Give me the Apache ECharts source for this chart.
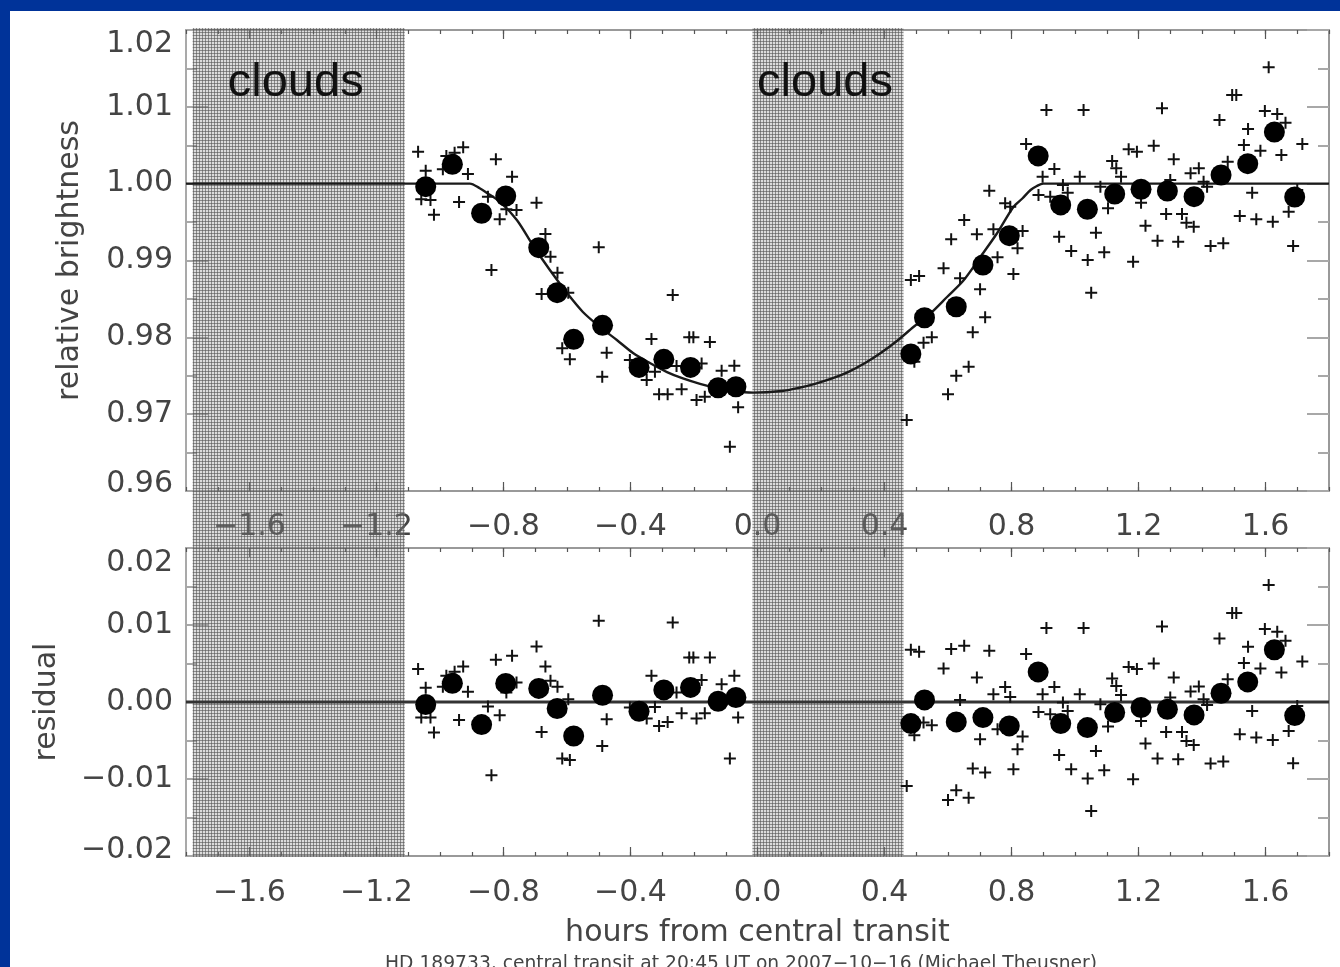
<!DOCTYPE html>
<html><head><meta charset="utf-8">
<script src="https://cdn.jsdelivr.net/npm/echarts@6/dist/echarts.min.js"></script>
<style>
html,body{margin:0;padding:0;width:1340px;height:967px;overflow:hidden;background:#003399;}
#c{position:absolute;left:10px;top:11px;width:1330px;height:956px;background:#fff;}
</style></head><body><div id="c"></div>
<script>
// ---------------- data (hours from central transit) ----------------
const xTickValues = [-1.6, -1.2, -0.8, -0.4, 0.0, 0.4, 0.8, 1.2, 1.6];
const yTopTickValues = [0.96, 0.97, 0.98, 0.99, 1.00, 1.01, 1.02];
const yBotTickValues = [-0.02, -0.01, 0.00, 0.01, 0.02];

const cloudStart = [-1.779, -0.016];
const cloudEnd = [-1.111, 0.460];
const cloudLabel = ['clouds', 'clouds'];

const modelX = [-1.8, -0.906, -0.875, -0.852, -0.811, -0.758, -0.708, -0.654, -0.600, -0.550, -0.496, -0.443, -0.392, -0.339, -0.285, -0.235, -0.181, -0.128, -0.077, -0.014, 0.077, 0.128, 0.181, 0.235, 0.285, 0.339, 0.388, 0.440, 0.491, 0.545, 0.597, 0.650, 0.702, 0.755, 0.806, 0.835, 0.860, 0.880, 0.900, 1.8];
const modelFlux = [1.0, 1.0, 0.9994, 0.99879, 0.99762, 0.99527, 0.99202, 0.98876, 0.98577, 0.98330, 0.98134, 0.97965, 0.97796, 0.97666, 0.97548, 0.97465, 0.97395, 0.97340, 0.97301, 0.97280, 0.97301, 0.97340, 0.97395, 0.97465, 0.97548, 0.97666, 0.97796, 0.97956, 0.98134, 0.98312, 0.98525, 0.98746, 0.99046, 0.99358, 0.99697, 0.99810, 0.99918, 0.9997, 1.0, 1.0];

const zeroX = [-1.8, 1.8];
const zeroY = [0, 0];

const rawX = [
 -1.069, -1.045, -0.991, -0.980, -0.954, -0.927, -0.912, -1.059, -1.030, -1.019,
 -0.940, -0.824, -0.773, -0.849, -0.812, -0.791, -0.759, -0.696, -0.838, -0.668,
 -0.652, -0.630, -0.680, -0.596, -0.500, -0.615, -0.591, -0.475, -0.489, -0.267,
 -0.334, -0.215, -0.202, -0.150, -0.402, -0.349, -0.323, -0.255, -0.239, -0.310,
 -0.283, -0.192, -0.166, -0.176, -0.113, -0.073, -0.061, -0.087,
 0.470, 0.483, 0.509, 0.523, 0.549, 0.494, 0.586, 0.610, 0.651, 0.600,
 0.626, 0.665, 0.638, 0.678, 0.691, 0.701, 0.717, 0.730, 0.743, 0.756,
 0.780, 0.796, 0.806, 0.819, 0.835, 0.846, 0.885, 0.898, 0.910, 0.922,
 0.935, 0.950, 0.962, 0.977, 0.988, 1.015, 1.027, 1.040, 1.051, 1.066,
 1.080, 1.092, 1.104, 1.117, 1.130, 1.145, 1.169, 1.195, 1.183, 1.208,
 1.222, 1.248, 1.260, 1.274, 1.287, 1.300, 1.311, 1.325, 1.337, 1.351,
 1.374, 1.364, 1.390, 1.405, 1.416, 1.427, 1.455, 1.467, 1.481, 1.495,
 1.508, 1.519, 1.532, 1.545, 1.558, 1.571, 1.584, 1.598, 1.610, 1.623,
 1.637, 1.650, 1.663, 1.673, 1.687, 1.700, 1.716];
const rawFlux = [
 1.00417, 1.00169, 1.00188, 1.00361, 1.00404, 1.00474, 1.00126, 0.99797, 0.99788, 0.99596,
 0.99762, 1.00318, 1.00091, 0.99831, 0.99536, 0.99667, 0.99658, 0.99753, 0.98876, 0.99345,
 0.99049, 0.98841, 0.98564, 0.98581, 0.99172, 0.97857, 0.97714, 0.97799, 0.97487, 0.98551,
 0.97978, 0.98000, 0.98000, 0.97939, 0.97704, 0.97444, 0.97552, 0.97626, 0.97323, 0.97258,
 0.97258, 0.97184, 0.97227, 0.97661, 0.97565, 0.97630, 0.97089, 0.96576,
 0.96923, 0.98746, 0.98798, 0.97930, 0.98000, 0.97682, 0.98898, 0.99276, 0.99527, 0.97258,
 0.97500, 0.97617, 0.98768, 0.98065, 0.99341, 0.98625, 0.98260, 0.99909, 0.99406, 0.99042,
 0.99745, 0.99701, 0.98824, 0.99159, 0.99384, 1.00517, 0.99853, 1.00091, 1.00960, 0.99831,
 1.00191, 0.99310, 0.99983, 0.99883, 0.99124, 1.00091, 1.00960, 0.99007, 0.98581, 0.99362,
 0.99961, 0.99107, 0.99680, 1.00296, 1.00201, 1.00091, 1.00448, 1.00417, 0.98984, 0.99753,
 0.99453, 1.00495, 0.99258, 1.00982, 0.99605, 1.00048, 1.00318, 0.99245, 0.99605, 0.99492,
 0.99440, 1.00135, 1.00201, 1.00026, 0.99961, 0.99189, 1.00829, 0.99224, 1.00286, 1.01155,
 1.01155, 0.99579, 1.00504, 1.00712, 0.99883, 0.99536, 1.00430, 1.00947, 1.01516, 0.99505,
 1.00908, 1.00374, 1.00794, 0.99635, 0.99189, 0.99918, 1.00517];
const rawResid = [
 0.00427, 0.00184, 0.00197, 0.00340, 0.00392, 0.00462, 0.00132, -0.00202, -0.00202, -0.00397,
 -0.00233, 0.00548, 0.00600, -0.00059, -0.00172, 0.00123, 0.00254, 0.00722, -0.00952, 0.00462,
 0.00275, 0.00197, -0.00388, 0.00036, 0.01055, -0.00735, -0.00753, -0.00224, -0.00571, 0.01034,
 0.00340, 0.00579, 0.00579, 0.00579, -0.00072, -0.00215, -0.00064, 0.00123, -0.00146, -0.00311,
 -0.00259, -0.00215, -0.00146, 0.00287, 0.00231, 0.00340, -0.00202, -0.00735,
 -0.01091, 0.00678, 0.00652, -0.00267, -0.00302, -0.00432, 0.00436, 0.00687, 0.00730, -0.01273,
 -0.01147, -0.01242, 0.00027, -0.00865, 0.00319, -0.00484, -0.00917, 0.00665, 0.00101, -0.00354,
 0.00196, 0.00066, -0.00874, -0.00614, -0.00449, 0.00622, -0.00129, 0.00101, 0.00960, -0.00159,
 0.00196, -0.00688, -0.00007, -0.00116, -0.00874, 0.00101, 0.00960, -0.00995, -0.01416, -0.00636,
 -0.00029, -0.00887, -0.00319, 0.00306, 0.00209, 0.00092, 0.00456, 0.00427, -0.01004, -0.00246,
 -0.00540, 0.00501, -0.00735, 0.00982, -0.00389, 0.00059, 0.00319, -0.00744, -0.00389, -0.00506,
 -0.00558, 0.00137, 0.00202, 0.00036, -0.00038, -0.00800, 0.00826, -0.00774, 0.00296, 0.01155,
 0.01155, -0.00419, 0.00505, 0.00717, -0.00116, -0.00462, 0.00436, 0.00947, 0.01519, -0.00493,
 0.00912, 0.00384, 0.00795, -0.00376, -0.00796, -0.00051, 0.00527];

const binX = [-1.045, -0.961, -0.869, -0.793, -0.689, -0.631, -0.579, -0.488, -0.373, -0.295, -0.211, -0.124, -0.068,
 0.483, 0.526, 0.626, 0.710, 0.793, 0.884, 0.955, 1.039, 1.125, 1.208, 1.291, 1.375, 1.460, 1.544, 1.628, 1.692];
const binFlux = [0.99961, 1.00253, 0.99615, 0.99840, 0.99167, 0.98581, 0.97974, 0.98156, 0.97609, 0.97714, 0.97609, 0.97344, 0.97357,
 0.97783, 0.98255, 0.98398, 0.98941, 0.99323, 1.00361, 0.99723, 0.99667, 0.99866, 0.99927, 0.99905, 0.99831, 1.00113, 1.00260, 1.00673, 0.99827];
const binResid = [-0.00033, 0.00244, -0.00293, 0.00241, 0.00176, -0.00085, -0.00441, 0.00088, -0.00120, 0.00157, 0.00189, 0.00010, 0.00059,
 -0.00280, 0.00027, -0.00259, -0.00202, -0.00311, 0.00391, -0.00280, -0.00332, -0.00137, -0.00072, -0.00094, -0.00168, 0.00114, 0.00261, 0.00678, -0.00176];

const captionText = 'HD 189733, central transit at 20:45 UT on 2007\u221210\u221216 (Michael Theusner)';

// ---------------- styling helpers ----------------
const FONT = "'DejaVu Sans', sans-serif";
const TXT = '#444444';
const fmtNum = (v, d) => { if (Math.abs(v) < 1e-9) v = 0; return v.toFixed(d).replace('-', '\u2212'); };
const zip = (a, b) => a.map((x, i) => [x, b[i]]);
const PLUS = 'path://M5,0H7V5H12V7H7V12H5V7H0V5H5Z';

const pc = document.createElement('canvas'); pc.width = 3; pc.height = 3;
const g = pc.getContext('2d');
g.fillStyle = 'rgba(150,150,150,0.34)'; g.fillRect(0, 0, 3, 3);
g.fillStyle = 'rgba(85,85,85,0.6)'; g.fillRect(0, 0, 3, 1); g.fillRect(0, 0, 1, 3);
const shadePattern = { image: pc, repeat: 'repeat' };

const lineStyleX = { color: '#999', width: 2 };
const tickStyleX = { color: '#555', width: 1.2 };
const lineStyleY = { color: '#8c8c8c', width: 1.5 };
const tickStyleY = { color: '#a8a8a8', width: 2 };

function makeXAxes(grid, labelMargin, withName) {
  const base = { type: 'value', gridIndex: grid, min: -1.8, max: 1.8, splitLine: { show: false } };
  const lab = { customValues: xTickValues, formatter: v => fmtNum(v, 1), margin: labelMargin,
                fontSize: 30, fontFamily: FONT, color: TXT };
  const major = Object.assign({}, base, {
    position: 'bottom', axisLine: { show: false, onZero: false },
    axisTick: { inside: true, length: 9, customValues: xTickValues, lineStyle: tickStyleX },
    axisLabel: lab
  });
  if (withName) {
    Object.assign(major, { name: 'hours from central transit', nameLocation: 'middle', nameGap: 62,
      nameTextStyle: { fontSize: 30, fontFamily: FONT, color: TXT } });
  }
  return [
    Object.assign({}, base, { position: 'bottom', interval: 0.1,
      axisLine: { show: true, onZero: false, lineStyle: lineStyleX },
      axisTick: { inside: true, length: 4, lineStyle: tickStyleX }, axisLabel: { show: false } }),
    major,
    Object.assign({}, base, { position: 'top', interval: 0.1,
      axisLine: { show: true, onZero: false, lineStyle: lineStyleX },
      axisTick: { inside: true, length: 4, lineStyle: tickStyleX }, axisLabel: { show: false } }),
    Object.assign({}, base, { position: 'top', axisLine: { show: false, onZero: false },
      axisTick: { inside: true, length: 9, customValues: xTickValues, lineStyle: tickStyleX },
      axisLabel: { show: false } })
  ];
}

function makeYAxes(grid, lo, hi, ticks, name, nameGap, padHi, padLo) {
  const base = { type: 'value', gridIndex: grid, min: lo, max: hi, splitLine: { show: false } };
  const txt = { fontSize: 30, fontFamily: FONT, color: TXT };
  const fmt = v => {
    const s = fmtNum(v, 2);
    if (Math.abs(v - hi) < 1e-9) return '{hi|' + s + '}';
    if (Math.abs(v - lo) < 1e-9) return '{lo|' + s + '}';
    return '{n|' + s + '}';
  };
  return [
    Object.assign({}, base, { position: 'left', interval: 0.005,
      axisLine: { show: true, onZero: false, lineStyle: lineStyleY },
      axisTick: { inside: true, length: 11, lineStyle: tickStyleY }, axisLabel: { show: false } }),
    Object.assign({}, base, { position: 'left', axisLine: { show: false, onZero: false },
      axisTick: { inside: true, length: 22, customValues: ticks, lineStyle: tickStyleY },
      axisLabel: { customValues: ticks, formatter: fmt, margin: 13,
        rich: { n: txt, hi: Object.assign({ padding: [padHi, 0, 0, 0] }, txt), lo: Object.assign({ padding: [0, 0, padLo, 0] }, txt) } },
      name: name, nameLocation: 'middle', nameGap: nameGap, nameTextStyle: txt }),
    Object.assign({}, base, { position: 'right', interval: 0.005,
      axisLine: { show: true, onZero: false, lineStyle: lineStyleX },
      axisTick: { inside: true, length: 11, lineStyle: tickStyleY }, axisLabel: { show: false } }),
    Object.assign({}, base, { position: 'right', axisLine: { show: false, onZero: false },
      axisTick: { inside: true, length: 22, customValues: ticks, lineStyle: tickStyleY }, axisLabel: { show: false } })
  ];
}

const xAxes = [].concat(makeXAxes(0, 21, false), makeXAxes(1, 22, true),
  [{ type: 'value', gridIndex: 2, min: -1.8, max: 1.8, show: false }]);
const yAxes = [].concat(
  makeYAxes(0, 0.96, 1.02, yTopTickValues, 'relative brightness', 101, 28, 14),
  makeYAxes(1, -0.02, 0.02, yBotTickValues, 'residual', 124, 30, 12),
  [{ type: 'value', gridIndex: 2, min: 0, max: 1, show: false }]);

const chart = echarts.init(document.getElementById('c'), null, { renderer: 'canvas' });
chart.setOption({
  animation: false,
  backgroundColor: '#ffffff',
  grid: [
    { left: 176, top: 19, width: 1143, height: 461 },
    { left: 176, top: 537, width: 1143, height: 308 },
    { left: 176, top: 17, width: 1143, height: 829 }
  ],
  xAxis: xAxes,
  yAxis: yAxes,
  graphic: [{
    type: 'text', x: 731, y: 953, z: 10,
    style: { text: captionText, fill: '#444', fontSize: 18.7, fontFamily: FONT, align: 'center', verticalAlign: 'middle' }
  }],
  series: [
    {
      type: 'custom', xAxisIndex: 8, yAxisIndex: 8, z: 2, silent: true,
      data: cloudStart.map((s, i) => [s, cloudEnd[i], cloudLabel[i]]),
      renderItem: function (params, api) {
        const p0 = api.coord([api.value(0), 1]);
        const p1 = api.coord([api.value(1), 0]);
        return { type: 'group', children: [
          { type: 'rect', shape: { x: p0[0], y: p0[1], width: p1[0] - p0[0], height: p1[1] - p0[1] },
            style: { fill: shadePattern } },
          { type: 'text', x: (p0[0] + p1[0]) / 2 - 3, y: p0[1] + 55,
            style: { text: cloudLabel[params.dataIndex], fill: '#111', fontSize: 47,
                     fontFamily: "'Liberation Sans', Arial, sans-serif", align: 'center', verticalAlign: 'middle' } }
        ] };
      }
    },
    {
      type: 'line', xAxisIndex: 1, yAxisIndex: 1, z: 3, data: zip(modelX, modelFlux),
      symbol: 'none', smooth: 0.3, lineStyle: { color: '#1a1a1a', width: 2.4 }
    },
    {
      type: 'scatter', xAxisIndex: 1, yAxisIndex: 1, z: 4, data: zip(rawX, rawFlux),
      symbol: PLUS, symbolSize: 12, itemStyle: { color: '#111', opacity: 1 }
    },
    {
      type: 'scatter', xAxisIndex: 1, yAxisIndex: 1, z: 5, data: zip(binX, binFlux),
      symbol: 'circle', symbolSize: 21, itemStyle: { color: '#000', opacity: 1 }
    },
    {
      type: 'line', xAxisIndex: 5, yAxisIndex: 5, z: 3, data: zip(zeroX, zeroY),
      symbol: 'none', lineStyle: { color: '#333', width: 3 }
    },
    {
      type: 'scatter', xAxisIndex: 5, yAxisIndex: 5, z: 4, data: zip(rawX, rawResid),
      symbol: PLUS, symbolSize: 12, itemStyle: { color: '#111', opacity: 1 }
    },
    {
      type: 'scatter', xAxisIndex: 5, yAxisIndex: 5, z: 5, data: zip(binX, binResid),
      symbol: 'circle', symbolSize: 21, itemStyle: { color: '#000', opacity: 1 }
    }
  ]
});
</script></body></html>
